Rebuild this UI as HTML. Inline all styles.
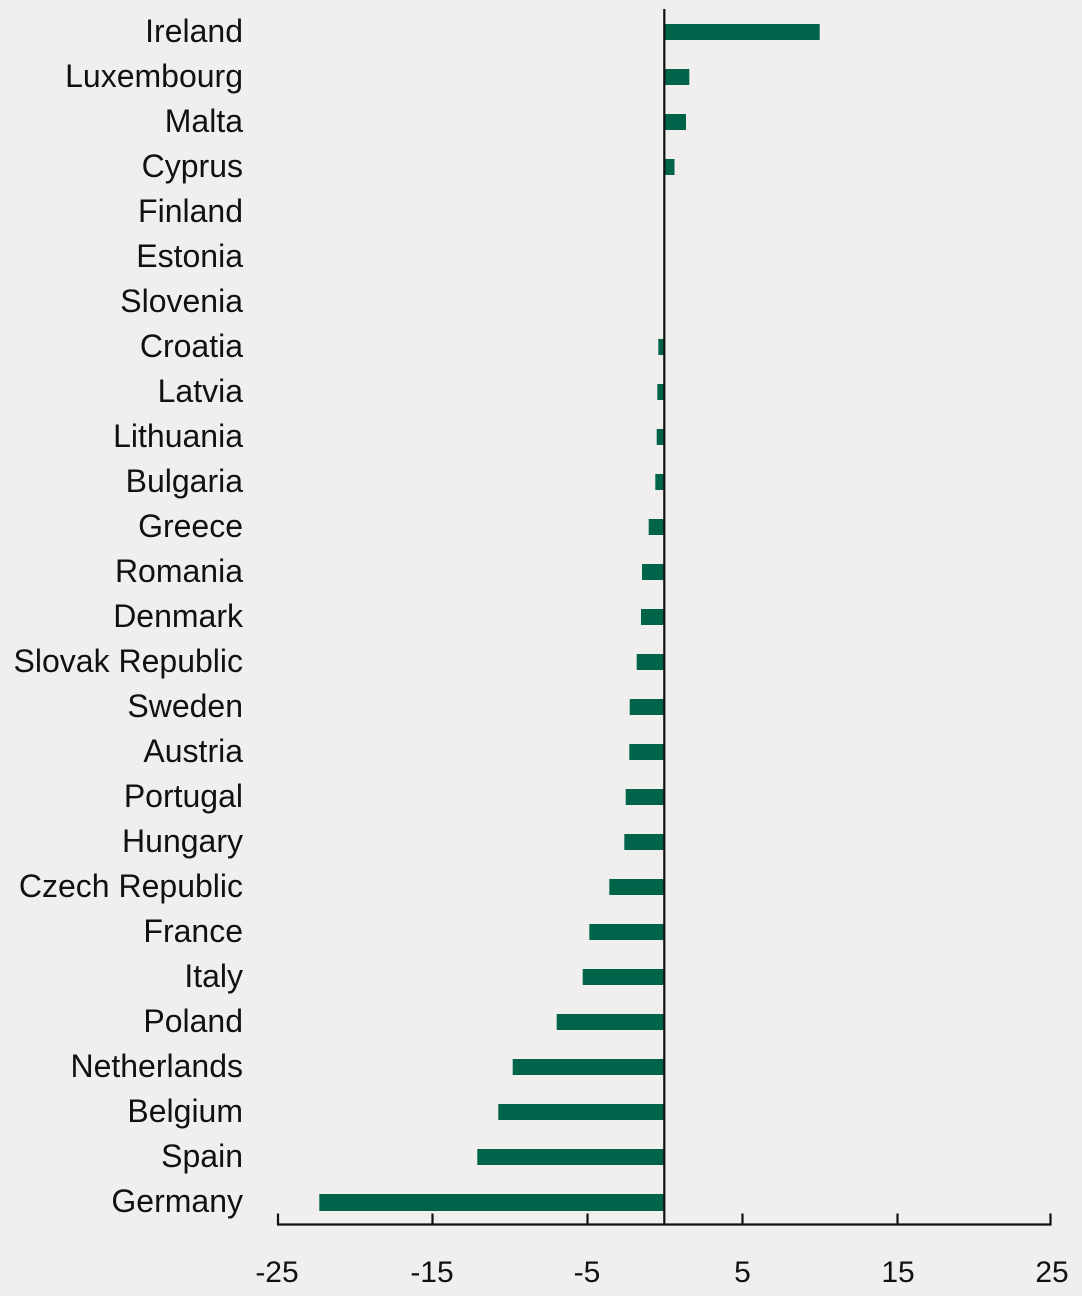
<!DOCTYPE html>
<html><head><meta charset="utf-8"><style>
html,body{margin:0;padding:0;background:#f0efed;}
svg{display:block;}
text{font-family:"Liberation Sans",sans-serif;fill:#111;}
</style></head><body>
<svg width="1082" height="1296" viewBox="0 0 1082 1296" xmlns="http://www.w3.org/2000/svg">
<rect x="0" y="0" width="1082" height="1296" fill="#f0efed"/>
<g fill="#00644a">
<rect x="664" y="24" width="155.7" height="16"/>
<rect x="664" y="69" width="25.3" height="16"/>
<rect x="664" y="114" width="22" height="16"/>
<rect x="664" y="159" width="10.5" height="16"/>
<rect x="664" y="204" width="1" height="16"/>
<rect x="664" y="249" width="1" height="16"/>
<rect x="664" y="294" width="1" height="16"/>
<rect x="658.3" y="339" width="5.7" height="16"/>
<rect x="657.3" y="384" width="6.7" height="16"/>
<rect x="656.7" y="429" width="7.3" height="16"/>
<rect x="655.3" y="474" width="8.7" height="16"/>
<rect x="648.7" y="519" width="15.3" height="16"/>
<rect x="642" y="564" width="22" height="16"/>
<rect x="641" y="609" width="23" height="16"/>
<rect x="636.7" y="654" width="27.3" height="16"/>
<rect x="629.7" y="699" width="34.3" height="16"/>
<rect x="629.3" y="744" width="34.7" height="16"/>
<rect x="625.7" y="789" width="38.3" height="16"/>
<rect x="624.3" y="834" width="39.7" height="16"/>
<rect x="609.3" y="879" width="54.7" height="16"/>
<rect x="589.3" y="924" width="74.7" height="16"/>
<rect x="582.7" y="969" width="81.3" height="16"/>
<rect x="556.7" y="1014" width="107.3" height="16"/>
<rect x="512.7" y="1059" width="151.3" height="16"/>
<rect x="498.3" y="1104" width="165.7" height="16"/>
<rect x="477.3" y="1149" width="186.7" height="16"/>
<rect x="319.3" y="1194" width="344.7" height="17"/>
</g>
<line x1="664.3" y1="9" x2="664.3" y2="1225" stroke="#111" stroke-width="2.2"/>
<g stroke="#111" stroke-width="2.2" fill="none">
<line x1="277" y1="1224.5" x2="1051.5" y2="1224.5"/>
<line x1="278" y1="1213.5" x2="278" y2="1225"/>
<line x1="432.5" y1="1213.5" x2="432.5" y2="1225"/>
<line x1="587.5" y1="1213.5" x2="587.5" y2="1225"/>
<line x1="742.5" y1="1213.5" x2="742.5" y2="1225"/>
<line x1="897.5" y1="1213.5" x2="897.5" y2="1225"/>
<line x1="1050.5" y1="1213.5" x2="1050.5" y2="1225"/>
</g>
<g font-size="30" text-anchor="middle">
<text x="277" y="1282">-25</text>
<text x="432" y="1282">-15</text>
<text x="587" y="1282">-5</text>
<text x="742.5" y="1282">5</text>
<text x="898" y="1282">15</text>
<text x="1052" y="1282">25</text>
</g>
<g font-size="32" text-anchor="end">
<text x="243" y="42">Ireland</text>
<text x="243" y="87">Luxembourg</text>
<text x="243" y="132">Malta</text>
<text x="243" y="177">Cyprus</text>
<text x="243" y="222">Finland</text>
<text x="243" y="267">Estonia</text>
<text x="243" y="312">Slovenia</text>
<text x="243" y="357">Croatia</text>
<text x="243" y="402">Latvia</text>
<text x="243" y="447">Lithuania</text>
<text x="243" y="492">Bulgaria</text>
<text x="243" y="537">Greece</text>
<text x="243" y="582">Romania</text>
<text x="243" y="627">Denmark</text>
<text x="243" y="672">Slovak Republic</text>
<text x="243" y="717">Sweden</text>
<text x="243" y="762">Austria</text>
<text x="243" y="807">Portugal</text>
<text x="243" y="852">Hungary</text>
<text x="243" y="897">Czech Republic</text>
<text x="243" y="942">France</text>
<text x="243" y="987">Italy</text>
<text x="243" y="1032">Poland</text>
<text x="243" y="1077">Netherlands</text>
<text x="243" y="1122">Belgium</text>
<text x="243" y="1167">Spain</text>
<text x="243" y="1212">Germany</text>
</g>
</svg>
</body></html>
